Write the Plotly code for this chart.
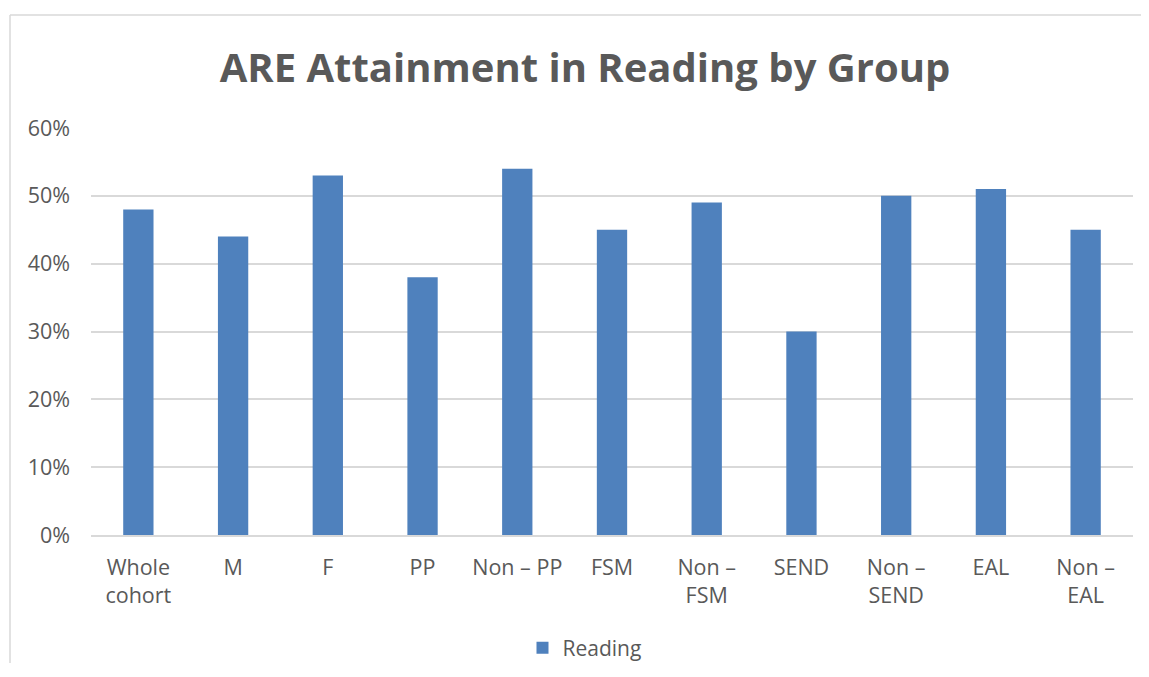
import plotly.graph_objects as go

categories = ["Whole<br>cohort", "M", "F", "PP", "Non – PP", "FSM", "Non –<br>FSM",
              "SEND", "Non –<br>SEND", "EAL", "Non –<br>EAL"]
reading = [0.48, 0.44, 0.53, 0.38, 0.54, 0.45, 0.49, 0.30, 0.50, 0.51, 0.45]
y_ticks = [0, 0.1, 0.2, 0.3, 0.4, 0.5, 0.6]
y_tick_labels = ["0%", "10%", "20%", "30%", "40%", "50%", "60%"]

FONT = "Open Sans"
GRAY = "#595959"
GRID = "#D9D9D9"

OFF = 8  # page body margin
W, H = 1149 - 2 * OFF, 677 - 2 * OFF - 6
L, R, T, B = 91 - OFF, (W + OFF) - 1133, 128 - OFF, (H + OFF) - 535
pw, ph = W - L - R, H - T - B

fig = go.Figure()
fig.add_trace(go.Bar(x=categories, y=reading, name="Reading",
                     marker=dict(color="#4F81BD", line=dict(width=0))))

fig.update_layout(
    width=W, height=H,
    margin=dict(l=L, r=R, t=T, b=B, autoexpand=False),
    paper_bgcolor="white", plot_bgcolor="white",
    bargap=0.68,
    title=dict(text="<b>ARE Attainment in Reading by Group</b>",
               font=dict(family=FONT, size=40, color=GRAY),
               x=(585 - OFF) / W, xanchor="center", y=1 - (68 - OFF) / H, yanchor="middle",
               xref="container", yref="container"),
    font=dict(family=FONT, size=21.5, color=GRAY),
    showlegend=True,
    legend=dict(orientation="h", x=(597 - 91) / pw - 0.012, xanchor="center",
                y=(535 - 648) / ph, yanchor="middle",
                font=dict(family=FONT, size=21, color=GRAY), itemwidth=30),
    xaxis=dict(showgrid=False, showline=True, linecolor=GRID, linewidth=1.5,
               ticks="", ticklabelstandoff=12,
               tickfont=dict(family=FONT, size=21.5, color=GRAY),
               tickangle=0, fixedrange=True),
    yaxis=dict(range=[0, 0.6], tickvals=y_ticks, ticktext=y_tick_labels,
               showgrid=True, gridcolor=GRID, gridwidth=1.5, zeroline=False,
               showline=False, ticks="", ticklabelstandoff=20,
               tickfont=dict(family=FONT, size=21.5, color=GRAY), fixedrange=True),
)

# outer chart border (top and left edges visible), kept inside the figure
bx0 = (10 - 91) / pw
by1 = 1 + (128 - 15) / ph
fig.add_shape(type="line", xref="paper", yref="paper",
              x0=bx0, x1=(W + OFF - 91) / pw, y0=by1, y1=by1,
              line=dict(color=GRID, width=1.5), layer="below")
fig.add_shape(type="line", xref="paper", yref="paper",
              x0=bx0, x1=bx0, y0=by1, y1=-(B / ph),
              line=dict(color=GRID, width=1.5), layer="below")

fig.write_html("out.html")
